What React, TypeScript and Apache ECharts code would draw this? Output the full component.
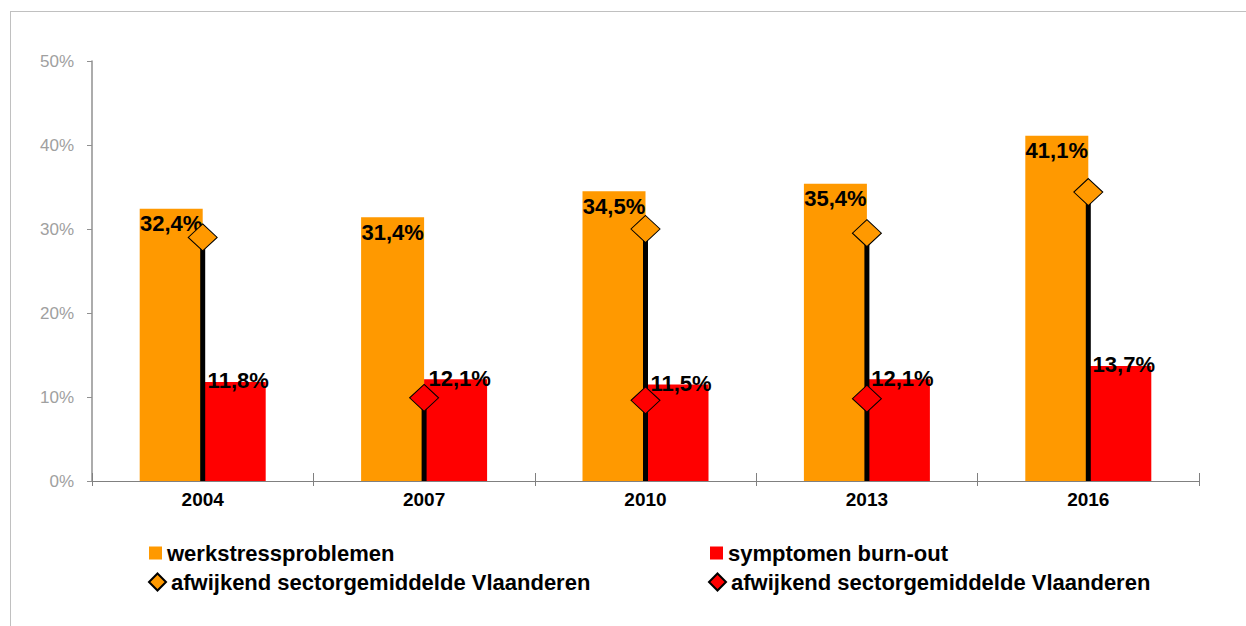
import React, { useEffect, useRef } from "react";
import * as echarts from "echarts";

const years = ["2004", "2007", "2010", "2013", "2016"];
const werkstress = [32.4, 31.4, 34.5, 35.4, 41.1];
const burnout = [11.8, 12.1, 11.5, 12.1, 13.7];
const afwijkendWerkstress: (number | null)[] = [29.0, null, 30.0, 29.5, 34.4];
const afwijkendBurnout: (number | null)[] = [null, 9.9, 9.6, 9.8, null];
const yTicks = [0, 10, 20, 30, 40, 50];

const NAME_BAR1 = "werkstressproblemen";
const NAME_BAR2 = "symptomen burn-out";
const NAME_DIA1 = "afwijkend sectorgemiddelde Vlaanderen (werkstress)";
const NAME_DIA2 = "afwijkend sectorgemiddelde Vlaanderen (burn-out)";
const DIA_LABEL = "afwijkend sectorgemiddelde Vlaanderen";

const FONT = 'Arial, "Liberation Sans", sans-serif';
const ORANGE = "#FF9900";
const RED = "#FF0000";

const fmt = (v: number) => v.toFixed(1).replace(".", ",") + "%";

export default function App() {
  const ref = useRef<HTMLDivElement>(null);
  useEffect(() => {
    if (!ref.current) return;
    const chart = echarts.init(ref.current, undefined, { renderer: "svg" });
    const dropLine = years.map((_, i) => {
      const vals = [afwijkendWerkstress[i], afwijkendBurnout[i]].filter(
        (v) => v !== null
      ) as number[];
      return vals.length ? Math.max(...vals) : null;
    });
    const legendText = {
      fontFamily: FONT,
      fontWeight: "bold" as const,
      fontSize: 22,
      color: "#000",
    };
    const legendFormatter = (n: string) => (n.startsWith("afwijkend") ? DIA_LABEL : n);
    chart.setOption({
      animation: false,
      backgroundColor: "#fff",
      grid: { left: 92, right: 47, top: 61, bottom: 145 },
      graphic: [
        {
          type: "line",
          shape: { x1: 10, y1: 11.5, x2: 1246, y2: 11.5 },
          style: { stroke: "#c0c0c0", lineWidth: 1 },
        },
        {
          type: "line",
          shape: { x1: 10.5, y1: 11, x2: 10.5, y2: 626 },
          style: { stroke: "#c0c0c0", lineWidth: 1 },
        },
      ],
      legend: [
        {
          left: 144,
          top: 537,
          itemWidth: 13,
          itemHeight: 13,
          icon: "rect",
          data: [NAME_BAR1],
          textStyle: legendText,
          selectedMode: false,
        },
        {
          left: 143,
          top: 566,
          itemWidth: 17,
          itemHeight: 17,
          icon: "diamond",
          data: [NAME_DIA1],
          formatter: legendFormatter,
          textStyle: legendText,
          selectedMode: false,
        },
        {
          left: 705,
          top: 537,
          itemWidth: 13,
          itemHeight: 13,
          icon: "rect",
          data: [NAME_BAR2],
          textStyle: legendText,
          selectedMode: false,
        },
        {
          left: 703,
          top: 566,
          itemWidth: 17,
          itemHeight: 17,
          icon: "diamond",
          data: [NAME_DIA2],
          formatter: legendFormatter,
          textStyle: legendText,
          selectedMode: false,
        },
      ],
      xAxis: [
        {
          type: "category",
          data: years,
          axisLine: { lineStyle: { color: "#808080", width: 1 } },
          axisTick: { show: true, length: 5, lineStyle: { color: "#808080" } },
          axisLabel: {
            color: "#000",
            fontFamily: FONT,
            fontWeight: "bold",
            fontSize: 19,
            margin: 9,
          },
        },
        {
          type: "category",
          data: years,
          position: "bottom",
          axisLine: { show: false },
          axisTick: { show: true, inside: true, length: 8, lineStyle: { color: "#808080" } },
          axisLabel: { show: false },
        },
      ],
      yAxis: {
        type: "value",
        min: yTicks[0],
        max: yTicks[yTicks.length - 1],
        interval: 10,
        splitLine: { show: false },
        axisLine: { show: true, lineStyle: { color: "#909090", width: 1.5 } },
        axisTick: { show: true, length: 5, lineStyle: { color: "#909090" } },
        axisLabel: {
          color: "#a0a0a0",
          fontFamily: FONT,
          fontSize: 17,
          margin: 18,
          formatter: (v: number) => v + "%",
        },
      },
      series: [
        {
          name: NAME_BAR1,
          type: "bar",
          data: werkstress,
          barWidth: 63,
          barGap: "0%",
          itemStyle: { color: ORANGE },
          z: 2,
          label: {
            show: true,
            position: ["50%", 0],
            align: "center",
            verticalAlign: "top",
            offset: [0, 4],
            fontFamily: FONT,
            fontWeight: "bold",
            fontSize: 22,
            color: "#000",
            formatter: (p: any) => fmt(p.value),
          },
        },
        {
          name: NAME_BAR2,
          type: "bar",
          data: burnout,
          barWidth: 63,
          barGap: "0%",
          itemStyle: { color: RED },
          z: 2,
          label: {
            show: true,
            position: ["50%", 0],
            align: "center",
            verticalAlign: "middle",
            offset: [4, -1],
            fontFamily: FONT,
            fontWeight: "bold",
            fontSize: 22,
            color: "#000",
            formatter: (p: any) => fmt(p.value),
          },
        },
        {
          name: "dropline",
          type: "bar",
          xAxisIndex: 1,
          data: dropLine,
          barWidth: 5,
          itemStyle: { color: "#000" },
          z: 3,
          silent: true,
        },
        {
          name: NAME_DIA1,
          type: "scatter",
          data: afwijkendWerkstress,
          symbol: "diamond",
          symbolSize: [29, 27],
          itemStyle: { color: ORANGE, borderColor: "#000", borderWidth: 1, opacity: 1 },
          z: 5,
        },
        {
          name: NAME_DIA2,
          type: "scatter",
          data: afwijkendBurnout,
          symbol: "diamond",
          symbolSize: [29, 27],
          itemStyle: { color: RED, borderColor: "#000", borderWidth: 1, opacity: 1 },
          z: 5,
        },
      ],
    });
    return () => chart.dispose();
  }, []);
  return (
    <div
      ref={ref}
      style={{ position: "fixed", left: 0, top: 0, width: 1246, height: 626 }}
    />
  );
}
